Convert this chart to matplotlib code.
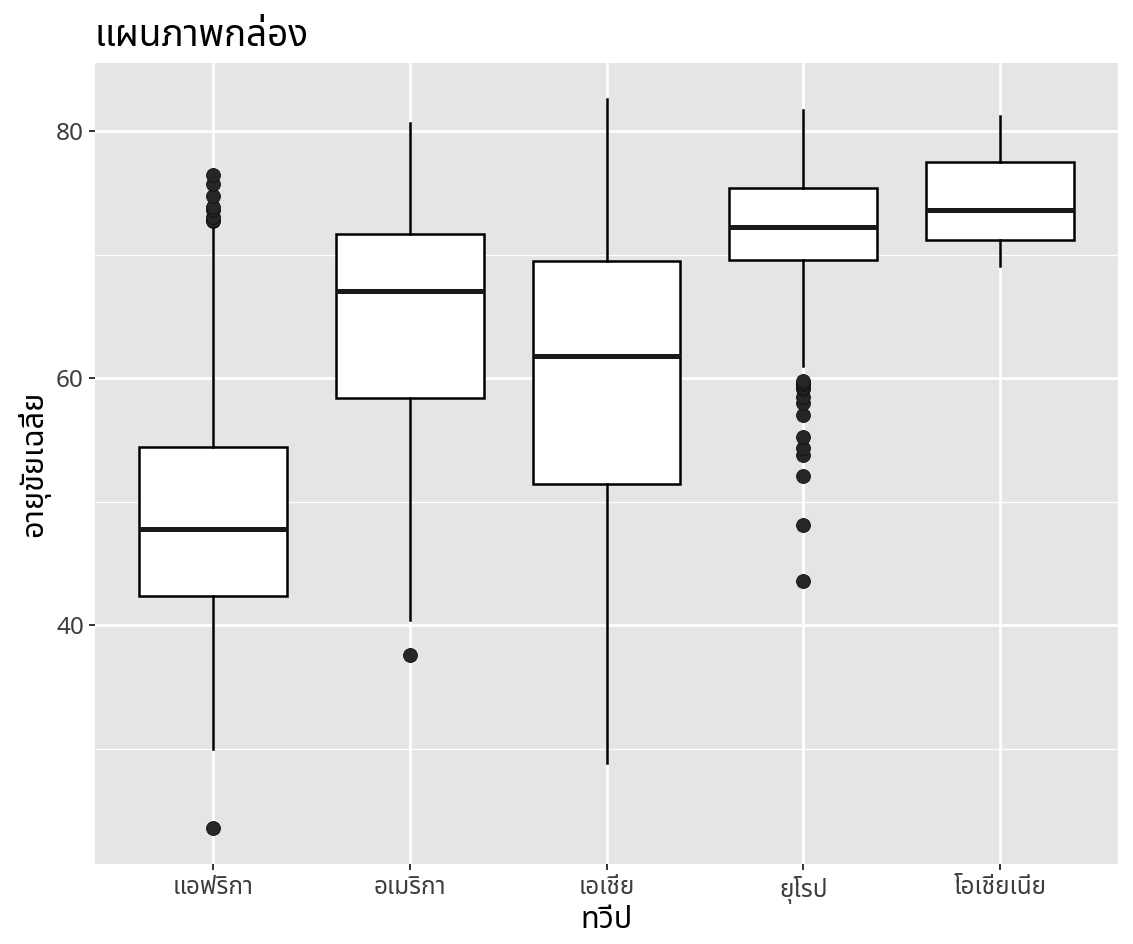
import matplotlib
matplotlib.use("Agg")
import matplotlib.pyplot as plt
from matplotlib import font_manager
from matplotlib.ft2font import FT2Font
from matplotlib.ticker import MultipleLocator

# life expectancy by continent
continents = ["แอฟริกา", "อเมริกา", "เอเชีย", "ยุโรป", "โอเชียเนีย"]
whisker_low = [30.0, 40.41, 28.80, 61.04, 69.12]
q1 = [42.37, 58.41, 51.43, 69.57, 71.21]
median = [47.79, 67.05, 61.79, 72.24, 73.67]
q3 = [54.41, 71.70, 69.51, 75.45, 77.55]
whisker_high = [72.3, 80.65, 82.60, 81.76, 81.24]
outliers = [
    [23.60, 72.74, 72.80, 73.04, 73.62, 73.92, 74.77, 75.74, 76.44],
    [37.58],
    [],
    [43.59, 48.08, 52.10, 53.82, 54.34, 55.23, 57.01, 58.00, 58.45,
     59.16, 59.28, 59.51, 59.60, 59.82],
    [],
]


def find_thai_font():
    preferred = ["Noto Sans Thai", "Noto Sans Thai UI", "Loma", "Garuda",
                 "Sarabun", "Tlwg Typo", "Kinnari", "Norasi"]
    found = {}
    for path in font_manager.findSystemFonts():
        try:
            cmap = FT2Font(path).get_charmap()
        except Exception:
            continue
        if ord("ก") in cmap and ord("แ") in cmap:
            try:
                name = font_manager.FontProperties(fname=path).get_name()
            except Exception:
                continue
            found[name] = path
    for name in preferred:
        if name in found:
            return name
    if found:
        return sorted(found)[0]
    return None


thai = find_thai_font()
families = ([thai] if thai else []) + ["DejaVu Sans"]
plt.rcParams["font.family"] = families

stats = []
for i, name in enumerate(continents):
    stats.append({
        "label": name,
        "whislo": whisker_low[i],
        "q1": q1[i],
        "med": median[i],
        "q3": q3[i],
        "whishi": whisker_high[i],
        "fliers": outliers[i],
    })

fig = plt.figure(figsize=(11.33, 9.44), dpi=100)
ax = fig.add_axes([95 / 1133, 80 / 944, 1023 / 1133, 801 / 944])
ax.set_facecolor("#E5E5E5")

positions = list(range(1, len(continents) + 1))
ax.bxp(stats, positions=positions, widths=0.75, patch_artist=True,
       boxprops=dict(facecolor="white", edgecolor="black", linewidth=1.8),
       medianprops=dict(color="#1A1A1A", linewidth=3.6),
       whiskerprops=dict(color="black", linewidth=1.8),
       capprops=dict(linewidth=0),
       flierprops=dict(marker="o", markerfacecolor="#262626",
                       markeredgecolor="#111111", markersize=10,
                       markeredgewidth=0.6),
       zorder=3)

ax.set_xlim(0.4, len(continents) + 0.6)
ax.set_ylim(20.65, 85.55)
ax.yaxis.set_major_locator(MultipleLocator(20))
ax.yaxis.set_minor_locator(MultipleLocator(10))
ax.set_xticks(positions)
ax.set_xticklabels(continents)

ax.grid(which="major", color="white", linewidth=1.9, zorder=0)
ax.grid(which="minor", axis="y", color="white", linewidth=0.9, zorder=0)
ax.set_axisbelow(True)
for s in ax.spines.values():
    s.set_visible(False)
ax.tick_params(axis="both", which="major", length=4, width=1.4,
               color="#333333", labelcolor="#3D3D3D", pad=4)
ax.tick_params(axis="x", labelsize=17.5, pad=5)
ax.tick_params(axis="y", labelsize=17.5)
ax.tick_params(axis="y", which="minor", length=0)

ax.set_xlabel("ทวีป", fontsize=22, color="black", labelpad=0,
              fontweight="bold")
ax.set_ylabel("อายุขัยเฉลี่ย", fontsize=22, color="black", labelpad=4,
              fontweight="bold")
ax.set_title("แผนภาพกล่อง", fontsize=26.5, loc="left", pad=12)

fig.savefig("out.png", dpi=100, facecolor="white")
